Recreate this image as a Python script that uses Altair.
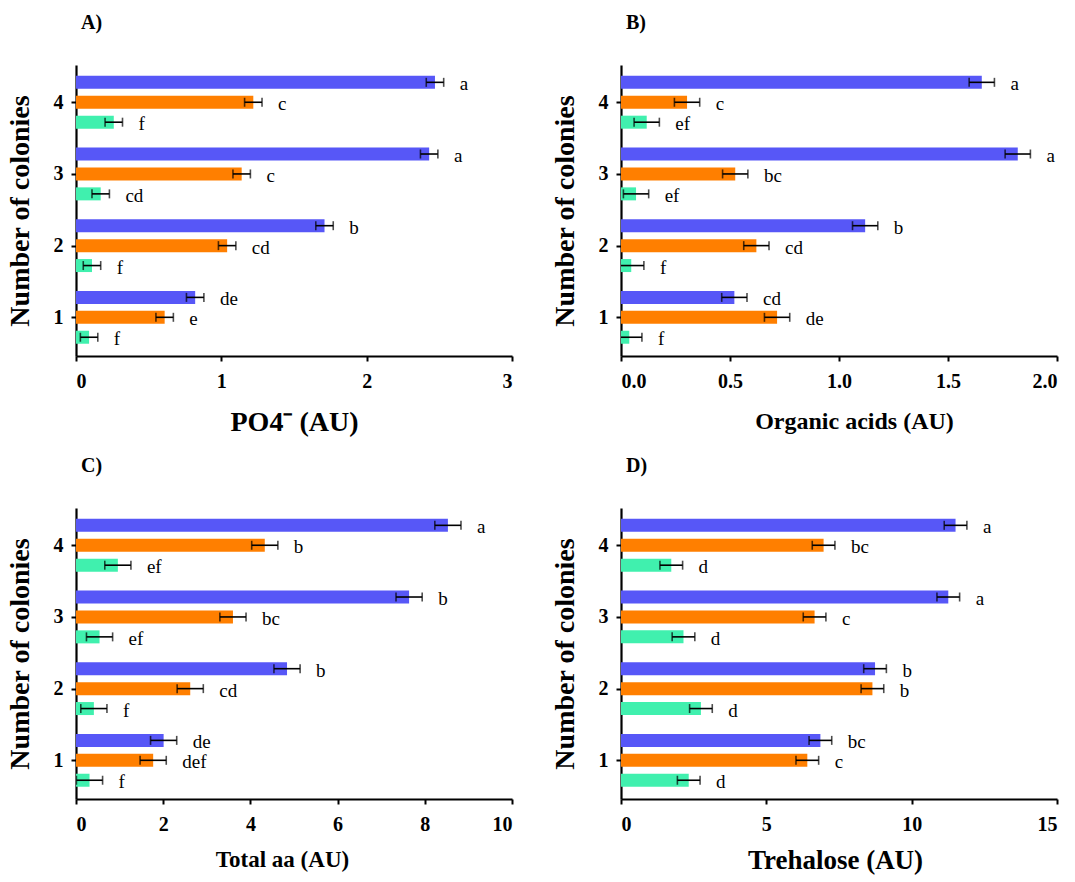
import altair as alt
import pandas as pd

colonies = [1, 2, 3, 4]
series_names = ["Series 1", "Series 2", "Series 3"]
series_colors = ["#5757F7", "#FF7F00", "#40F0AE"]

# Panel A: PO4- (AU)
A_blue = [0.82, 1.71, 2.43, 2.47]
A_orange = [0.61, 1.04, 1.14, 1.22]
A_green = [0.09, 0.11, 0.17, 0.26]
A_err_blue = [0.06, 0.06, 0.06, 0.06]
A_err_orange = [0.06, 0.06, 0.06, 0.06]
A_err_green = [0.06, 0.06, 0.06, 0.06]
A_let_blue = ["de", "b", "a", "a"]
A_let_orange = ["e", "cd", "c", "c"]
A_let_green = ["f", "f", "cd", "f"]

# Panel B: Organic acids (AU)
B_blue = [0.52, 1.12, 1.82, 1.655]
B_orange = [0.716, 0.621, 0.524, 0.303]
B_green = [0.038, 0.047, 0.069, 0.118]
B_err_blue = [0.058, 0.058, 0.058, 0.058]
B_err_orange = [0.058, 0.058, 0.058, 0.058]
B_err_green = [0.058, 0.058, 0.058, 0.058]
B_let_blue = ["cd", "b", "a", "a"]
B_let_orange = ["de", "cd", "bc", "c"]
B_let_green = ["f", "f", "ef", "ef"]

# Panel C: Total aa (AU)
C_blue = [2.01, 4.84, 7.64, 8.53]
C_orange = [1.77, 2.62, 3.60, 4.33]
C_green = [0.31, 0.41, 0.54, 0.96]
C_err_blue = [0.30, 0.30, 0.30, 0.30]
C_err_orange = [0.30, 0.30, 0.30, 0.30]
C_err_green = [0.30, 0.30, 0.30, 0.30]
C_let_blue = ["de", "b", "b", "a"]
C_let_orange = ["def", "cd", "bc", "b"]
C_let_green = ["f", "f", "ef", "ef"]

# Panel D: Trehalose (AU)
D_blue = [6.86, 8.74, 11.26, 11.51]
D_orange = [6.41, 8.65, 6.66, 6.97]
D_green = [2.33, 2.75, 2.15, 1.73]
D_err_blue = [0.39, 0.39, 0.39, 0.39]
D_err_orange = [0.39, 0.39, 0.39, 0.39]
D_err_green = [0.39, 0.39, 0.39, 0.39]
D_let_blue = ["bc", "b", "a", "a"]
D_let_orange = ["c", "b", "c", "bc"]
D_let_green = ["d", "d", "d", "d"]

SERIF = "Liberation Serif"
OFFSETS = {"Series 1": 0.278, "Series 2": 0.0, "Series 3": -0.278}
PANEL_W = 436
PANEL_H = 291


def panel(vals, errs, lets, xmax, ticks, fmt, xtitle, xtitle_size, xtitle_pad, xtitle_x, ptitle):
    rows = []
    for name, v_list, e_list, l_list in zip(series_names, vals, errs, lets):
        for c, v, e, l in zip(colonies, v_list, e_list, l_list):
            rows.append({"colony": c, "series": name, "value": v, "err": e,
                         "letter": l, "off": OFFSETS[name]})
    df = pd.DataFrame(rows)
    base = alt.Chart(df).transform_calculate(
        ypos="datum.colony + datum.off",
        lo="datum.value - datum.err",
        hi="datum.value + datum.err",
    )
    yscale = alt.Scale(domain=[0.53, 4.45], nice=False, zero=False)
    xscale = alt.Scale(domain=[0, xmax], nice=False)
    yenc = alt.Y("ypos:Q", scale=yscale,
                 axis=alt.Axis(values=colonies, format="d", title="Number of colonies"))
    xaxis = alt.Axis(values=ticks, format=fmt, title=xtitle, titleFontSize=xtitle_size,
                     titlePadding=xtitle_pad, titleX=xtitle_x)

    bars = base.mark_bar(orient="horizontal", size=13).encode(
        x=alt.X("value:Q", scale=xscale, axis=xaxis, stack=None),
        y=yenc,
        color=alt.Color("series:N", scale=alt.Scale(domain=series_names, range=series_colors),
                        legend=None),
    )
    rule = base.mark_rule(color="black", strokeWidth=1.6, clip=True).encode(
        x=alt.X("lo:Q", scale=xscale, title=xtitle),
        x2="hi:Q",
        y=yenc,
    )
    cap_lo = base.mark_tick(orient="vertical", color="black", size=9, thickness=1.6,
                            clip=True).encode(
        x=alt.X("lo:Q", scale=xscale, title=xtitle),
        y=yenc,
    )
    cap_hi = base.mark_tick(orient="vertical", color="black", size=9, thickness=1.6).encode(
        x=alt.X("hi:Q", scale=xscale, title=xtitle),
        y=yenc,
    )
    text = base.mark_text(align="left", baseline="middle", dx=16, dy=2, font=SERIF,
                          fontSize=19, color="black").encode(
        x=alt.X("hi:Q", scale=xscale, title=xtitle),
        y=yenc,
        text="letter:N",
    )
    return alt.layer(bars, rule, cap_lo, cap_hi, text).properties(
        width=PANEL_W, height=PANEL_H,
        title=alt.TitleParams(ptitle, anchor="start", frame="group", dx=5, offset=32,
                              font=SERIF, fontSize=20, fontWeight="bold", color="black"),
    )


pA = panel([A_blue, A_orange, A_green], [A_err_blue, A_err_orange, A_err_green],
           [A_let_blue, A_let_orange, A_let_green], 3, [0, 1, 2, 3], "d",
           "PO4\u207b (AU)", 28, 17, 218, "A)")
pB = panel([B_blue, B_orange, B_green], [B_err_blue, B_err_orange, B_err_green],
           [B_let_blue, B_let_orange, B_let_green], 2, [0, 0.5, 1, 1.5, 2], ".1f",
           "Organic acids (AU)", 24, 18, 233, "B)")
pC = panel([C_blue, C_orange, C_green], [C_err_blue, C_err_orange, C_err_green],
           [C_let_blue, C_let_orange, C_let_green], 10, [0, 2, 4, 6, 8, 10], "d",
           "Total aa (AU)", 23, 14, 206, "C)")
pD = panel([D_blue, D_orange, D_green], [D_err_blue, D_err_orange, D_err_green],
           [D_let_blue, D_let_orange, D_let_green], 15, [0, 5, 10, 15], "d",
           "Trehalose (AU)", 27, 13, 214, "D)")

chart = alt.ConcatChart(
    concat=[pA, pB, pC, pD],
    columns=2,
    spacing={"row": 152, "column": 109},
    bounds="flush",
).properties(
    padding={"left": 6, "top": 13, "right": 5, "bottom": 5},
).configure(font=SERIF).configure_view(stroke=None).configure_text(font=SERIF).configure_axis(
    grid=False,
    domainColor="black",
    domainWidth=2.2,
    tickColor="black",
    tickWidth=2,
    tickSize=5,
    labelFont=SERIF,
    labelFontSize=20,
    labelFontWeight="bold",
    labelColor="black",
    titleFont=SERIF,
    titleFontSize=23,
    titleFontWeight="bold",
    titleColor="black",
).configure_axisY(
    labelPadding=8,
    titlePadding=19,
    titleFontSize=28,
).configure_axisX(
    labelPadding=10,
)

chart.save("out.html", embed_options={"renderer": "svg", "actions": False})
